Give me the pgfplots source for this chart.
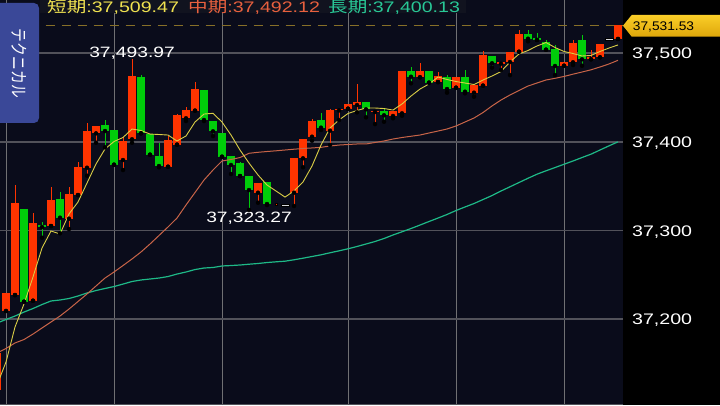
\documentclass[border=0pt]{standalone}
\usepackage{fontspec}
\setmainfont{Liberation Sans}[FakeStretch=1.28]
\newfontfamily\cjk{Noto Sans CJK JP}[FakeStretch=1.28]
\newfontfamily\cjkplain{Noto Sans CJK JP}
\newfontfamily\tagfont{Liberation Sans}[FakeStretch=1.1]
\usepackage{graphicx}
\usepackage{pgfplots}
\usepackage{pgfplotstable}
\pgfplotsset{compat=1.18}

\definecolor{bgc}{RGB}{10,12,27}
\definecolor{titlebg}{RGB}{17,19,31}
\definecolor{cred}{RGB}{255,52,0}
\definecolor{cgreen}{RGB}{0,205,10}
\definecolor{cgray}{RGB}{215,215,220}
\definecolor{hgrid}{RGB}{82,82,90}
\definecolor{vgrid}{RGB}{112,112,115}
\definecolor{mashort}{RGB}{218,206,70}
\definecolor{mamid}{RGB}{200,100,72}
\definecolor{malong}{RGB}{30,185,135}
\definecolor{tshort}{RGB}{240,226,80}
\definecolor{tmid}{RGB}{232,96,62}
\definecolor{tlong}{RGB}{40,200,150}
\definecolor{dashc}{RGB}{135,112,40}
\definecolor{tabc}{RGB}{58,72,152}
\definecolor{tagtop}{RGB}{250,206,40}
\definecolor{tagbot}{RGB}{222,166,10}

\pgfplotstableread{
x lo hi bot top
0 37120.0 37161.8 37120.0 37161.8
1 37209.2 37229.5 37209.2 37229.5
2 37227.2 37351.4 37227.2 37330.7
4 37220.8 37320.1 37220.8 37308.2
6 37305.1 37348.8 37305.1 37334.5
8 37301.7 37348.8 37313.4 37340.9
9 37340.1 37377.0 37340.1 37371.4
10 37361.9 37421.7 37370.9 37412.0
11 37399.1 37418.0 37409.7 37418.0
14 37368.3 37405.2 37379.6 37401.4
15 37399.1 37493.97 37403.0 37474.4
19 37372.0 37406.7 37372.0 37402.2
20 37396.9 37431.5 37396.9 37430.1
21 37423.6 37439.8 37426.7 37436.0
22 37435.3 37467.6 37435.3 37459.4
29 37331.4 37353.3 37342.7 37353.3
33 37327.7 37381.9 37342.7 37381.5
34 37371.4 37403.0 37381.5 37403.0
35 37401.4 37425.9 37405.9 37423.6
37 37396.5 37437.2 37412.7 37436.0
38 37424.8 37436.8 37435.5 37436.8
39 37437.5 37442.5 37437.5 37442.5
40 37433.4 37465.4 37441.7 37444.7
42 37420.2 37435.3 37433.8 37435.3
44 37426.7 37434.9 37429.3 37434.9
45 37429.6 37480.1 37432.3 37480.1
47 37473.0 37488.8 37473.0 37480.4
49 37467.6 37479.3 37467.6 37474.4
51 37461.2 37473.0 37461.2 37473.0
53 37451.1 37464.3 37455.6 37464.3
54 37463.5 37503.0 37463.5 37497.8
56 37481.2 37490.2 37488.3 37490.2
57 37475.5 37501.2 37490.2 37501.2
58 37501.8 37526.3 37501.8 37521.8
63 37486.0 37490.2 37486.0 37490.2
64 37486.8 37515.1 37489.9 37511.3
66 37493.3 37503.8 37493.3 37495.5
67 37495.5 37510.5 37495.5 37510.5
69 37516.2 37531.53 37516.2 37531.53
}\redtab

\pgfplotstableread{
x lo hi bot top
3 37219.7 37324.3 37219.7 37324.3
5 37291.9 37310.0 37304.0 37306.2
7 37296.9 37343.2 37314.5 37335.3
12 37393.9 37424.8 37412.3 37418.8
13 37374.3 37413.5 37374.3 37413.5
16 37409.7 37475.5 37409.7 37473.0
17 37385.6 37409.0 37385.6 37409.0
18 37371.4 37399.1 37372.8 37384.1
23 37423.6 37458.6 37424.8 37458.6
24 37406.7 37423.3 37412.0 37423.3
25 37383.3 37409.7 37383.3 37409.7
26 37363.8 37384.1 37374.0 37384.1
27 37361.5 37377.4 37361.5 37375.9
28 37323.27 37361.5 37345.7 37361.5
30 37328.8 37354.4 37329.9 37354.4
36 37413.5 37432.3 37416.1 37424.8
41 37427.8 37444.7 37436.8 37444.7
43 37422.8 37437.2 37430.1 37434.9
46 37466.2 37484.6 37473.6 37480.1
48 37466.9 37480.4 37466.9 37480.4
50 37455.6 37475.5 37459.7 37473.0
52 37454.9 37481.2 37456.7 37473.0
55 37483.8 37497.0 37488.8 37497.0
59 37513.6 37526.3 37516.5 37521.8
60 37515.1 37522.6 37515.1 37517.0
61 37504.1 37515.1 37504.1 37513.1
62 37475.5 37509.4 37485.7 37504.9
65 37486.0 37521.0 37493.3 37515.1
}\greentab

% flat candles (open = close)
\pgfplotstableread{
x y
32 37329.0
68 37516.2
}\graytab
\pgfplotstableread{
x y
31 37329.2
}\redflat

\pgfplotstableread{
x y
0 37125.7
1 37151.6
2 37191.1
3 37217.1
4 37247.6
5 37280.3
6 37299.5
7 37296.1
8 37318.7
9 37332.2
10 37353.6
11 37375.1
12 37392.0
13 37400.5
14 37405.0
15 37414.6
16 37412.9
17 37408.9
18 37408.4
19 37407.8
20 37401.1
21 37406.7
22 37422.5
23 37431.5
24 37432.3
25 37422.5
26 37407.8
27 37390.9
28 37376.2
29 37362.7
30 37351.4
31 37344.6
32 37337.8
33 37344.6
34 37354.8
35 37372.8
36 37396.5
37 37415.7
38 37424.8
39 37432.1
40 37435.5
41 37438.3
42 37438.3
43 37437.7
44 37436.0
45 37442.8
46 37451.8
47 37459.7
48 37465.4
49 37473.3
50 37470.5
51 37468.2
52 37466.5
53 37464.8
54 37469.9
55 37474.4
56 37479.5
57 37490.2
58 37499.3
59 37503.2
60 37508.3
61 37512.2
62 37506.6
63 37502.1
64 37499.8
65 37497.0
66 37497.6
67 37502.1
68 37506.0
69 37509.47
}\mashorttab

\pgfplotstableread{
x y
0 37161.8
1 37166.9
2 37173.1
3 37177.0
4 37183.2
5 37190.0
6 37196.8
7 37203.5
8 37211.4
9 37219.9
10 37228.4
11 37237.4
12 37246.4
13 37253.2
14 37260.5
15 37267.9
16 37275.8
17 37284.8
18 37294.4
19 37304.0
20 37314.1
21 37328.8
22 37342.9
23 37357.0
24 37368.3
25 37378.5
26 37380.2
27 37382.4
28 37387.2
29 37388.3
30 37389.2
31 37390.0
32 37390.9
33 37391.8
34 37392.6
35 37393.2
36 37393.9
37 37395.4
38 37396.5
39 37397.1
40 37397.7
41 37397.7
42 37399.4
43 37401.1
44 37403.3
45 37405.0
46 37406.4
47 37407.8
48 37410.1
49 37412.3
50 37414.6
51 37418.0
52 37422.5
53 37427.0
54 37433.2
55 37440.6
56 37447.3
57 37453.0
58 37458.1
59 37463.1
60 37466.5
61 37469.9
62 37471.8
63 37473.9
64 37476.5
65 37478.9
66 37481.4
67 37484.6
68 37488.0
69 37492.12
}\mamidtab

\pgfplotstableread{
x y
0 37195.6
1 37199.6
2 37203.5
3 37208.0
4 37212.0
5 37216.5
6 37220.5
7 37221.6
8 37223.3
9 37226.1
10 37229.5
11 37232.3
12 37234.6
13 37236.8
14 37239.6
15 37242.5
16 37244.2
17 37245.3
18 37246.4
19 37248.1
20 37250.9
21 37253.2
22 37256.0
23 37257.7
24 37258.3
25 37260.0
26 37260.5
27 37261.1
28 37262.0
29 37262.8
30 37263.9
31 37264.7
32 37265.4
33 37267.0
34 37268.8
35 37270.7
36 37272.6
37 37274.9
38 37277.1
39 37279.4
40 37282.0
41 37284.8
42 37287.6
43 37291.0
44 37295.0
45 37298.6
46 37302.3
47 37306.2
48 37310.2
49 37314.1
50 37318.1
51 37322.6
52 37326.6
53 37330.5
54 37335.0
55 37339.5
56 37344.6
57 37349.4
58 37354.2
59 37359.0
60 37363.6
61 37367.4
62 37371.1
63 37374.8
64 37378.5
65 37382.4
66 37386.2
67 37390.9
68 37395.6
69 37400.13
}\malongtab

\begin{document}
\begin{tikzpicture}
\useasboundingbox (0,0) rectangle (720pt,405pt);
\fill[black] (0,0) rectangle (720pt,405pt);
\fill[bgc] (0,0) rectangle (623pt,405pt);
\begin{axis}[
  at={(0pt,0pt)}, anchor=south west,
  scale only axis, width=623pt, height=405pt,
  xmin=0.3333, xmax=69.5556, ymin=37103.1, ymax=37560.2,
  axis line style={draw=none}, tick style={draw=none},
  xtick={1,13,25,39,51,63}, xticklabels={},
  xmajorgrids, x grid style={color=vgrid, line width=1pt},
  ytick={37200,37300,37400,37500},
  ymajorgrids, y grid style={color=hgrid, line width=1.4pt},
  yticklabel pos=right,
  scaled y ticks=false,
  yticklabel style={anchor=base west, inner sep=0pt, xshift=9pt, yshift=-5.5pt, text=white, font=\fontsize{15.3}{16}\selectfont},
  /pgf/number format/.cd, 1000 sep={,}, assume math mode=true,
]
\draw[color=hgrid, line width=2pt] (axis cs:0.3333,37500) -- (axis cs:69.5556,37500);
\draw[color=dashc, line width=1.3pt, dash pattern=on 9pt off 7pt, dash phase=2.3pt] (axis cs:0.3333,37531.53) -- (axis cs:69.5556,37531.53);

% wicks
\addplot[only marks, mark=none, forget plot, error bars/.cd, y dir=plus, y explicit, error mark=none, error bar style={draw=cred, line width=1pt}] table[x=x, y=lo, y error expr=\thisrow{hi}-\thisrow{lo}] {\redtab};
\addplot[only marks, mark=none, forget plot, error bars/.cd, y dir=plus, y explicit, error mark=none, error bar style={draw=cgreen, line width=1pt}] table[x=x, y=lo, y error expr=\thisrow{hi}-\thisrow{lo}] {\greentab};
% bodies
\addplot[only marks, mark=none, forget plot, error bars/.cd, y dir=plus, y explicit, error mark=none, error bar style={draw=cred, line width=8pt}] table[x=x, y=bot, y error expr=\thisrow{top}-\thisrow{bot}] {\redtab};
\addplot[only marks, mark=none, forget plot, error bars/.cd, y dir=plus, y explicit, error mark=none, error bar style={draw=cgreen, line width=8pt}] table[x=x, y=bot, y error expr=\thisrow{top}-\thisrow{bot}] {\greentab};
% flat candles as filled bar marks
\addplot[only marks, forget plot, mark=square*, mark size=4pt, mark options={draw=none, fill=cgray, yscale=0.25}] table[x=x, y=y] {\graytab};
\addplot[only marks, forget plot, mark=square*, mark size=1pt, mark options={draw=none, fill=cred}] table[x=x, y=y] {\redflat};

% moving averages
\addplot[color=malong, line width=1.2pt, mark=none] table[x=x, y=y] {\malongtab};
\addplot[color=mamid, line width=1pt, mark=none] table[x=x, y=y] {\mamidtab};
\addplot[color=mashort, line width=0.9pt, mark=none] table[x=x, y=y] {\mashorttab};

\node[anchor=base, inner sep=0pt, yshift=0.8pt, text=white, font=\fontsize{15}{16}\selectfont] at (axis cs:15,37493.97) {37,493.97};
\node[anchor=north, inner sep=0pt, yshift=-1.7pt, text=white, font=\fontsize{15}{16}\selectfont] at (axis cs:28,37323.27) {37,323.27};
\end{axis}

% bottom border
\draw[color=hgrid, line width=1pt] (0,0.5pt) -- (623pt,0.5pt);

% title strip
\fill[titlebg] (40pt,392pt) rectangle (466pt,405pt);
\node[anchor=base west, inner sep=0pt, text=tshort, font=\fontsize{15.3}{16}\selectfont] at (47pt,392.5pt) {{\cjk 短期}:37,509.47};
\node[anchor=base west, inner sep=0pt, text=tmid, font=\fontsize{15.3}{16}\selectfont] at (188pt,392.5pt) {{\cjk 中期}:37,492.12};
\node[anchor=base west, inner sep=0pt, text=tlong, font=\fontsize{15.3}{16}\selectfont] at (328pt,392.5pt) {{\cjk 長期}:37,400.13};

% side tab
\fill[tabc, rounded corners=5pt] (-10pt,282pt) rectangle (39pt,402pt);
\node[inner sep=0pt, text=white] at (19pt,341.5pt) {\scalebox{1.28}[1]{\rotatebox{-90}{\cjkplain\fontsize{13.8}{14}\selectfont テクニカル}}};

% price tag
\shade[top color=tagtop, bottom color=tagbot] (623pt,379.3pt) -- (631.7pt,390pt) -- (722pt,390pt) -- (722pt,368.3pt) -- (631.7pt,368.3pt) -- cycle;
\node[anchor=base west, inner sep=0pt, text=black, font=\tagfont\fontsize{12.5}{13}\selectfont] at (632.7pt,374.3pt) {37,531.53};
\end{tikzpicture}
\end{document}
